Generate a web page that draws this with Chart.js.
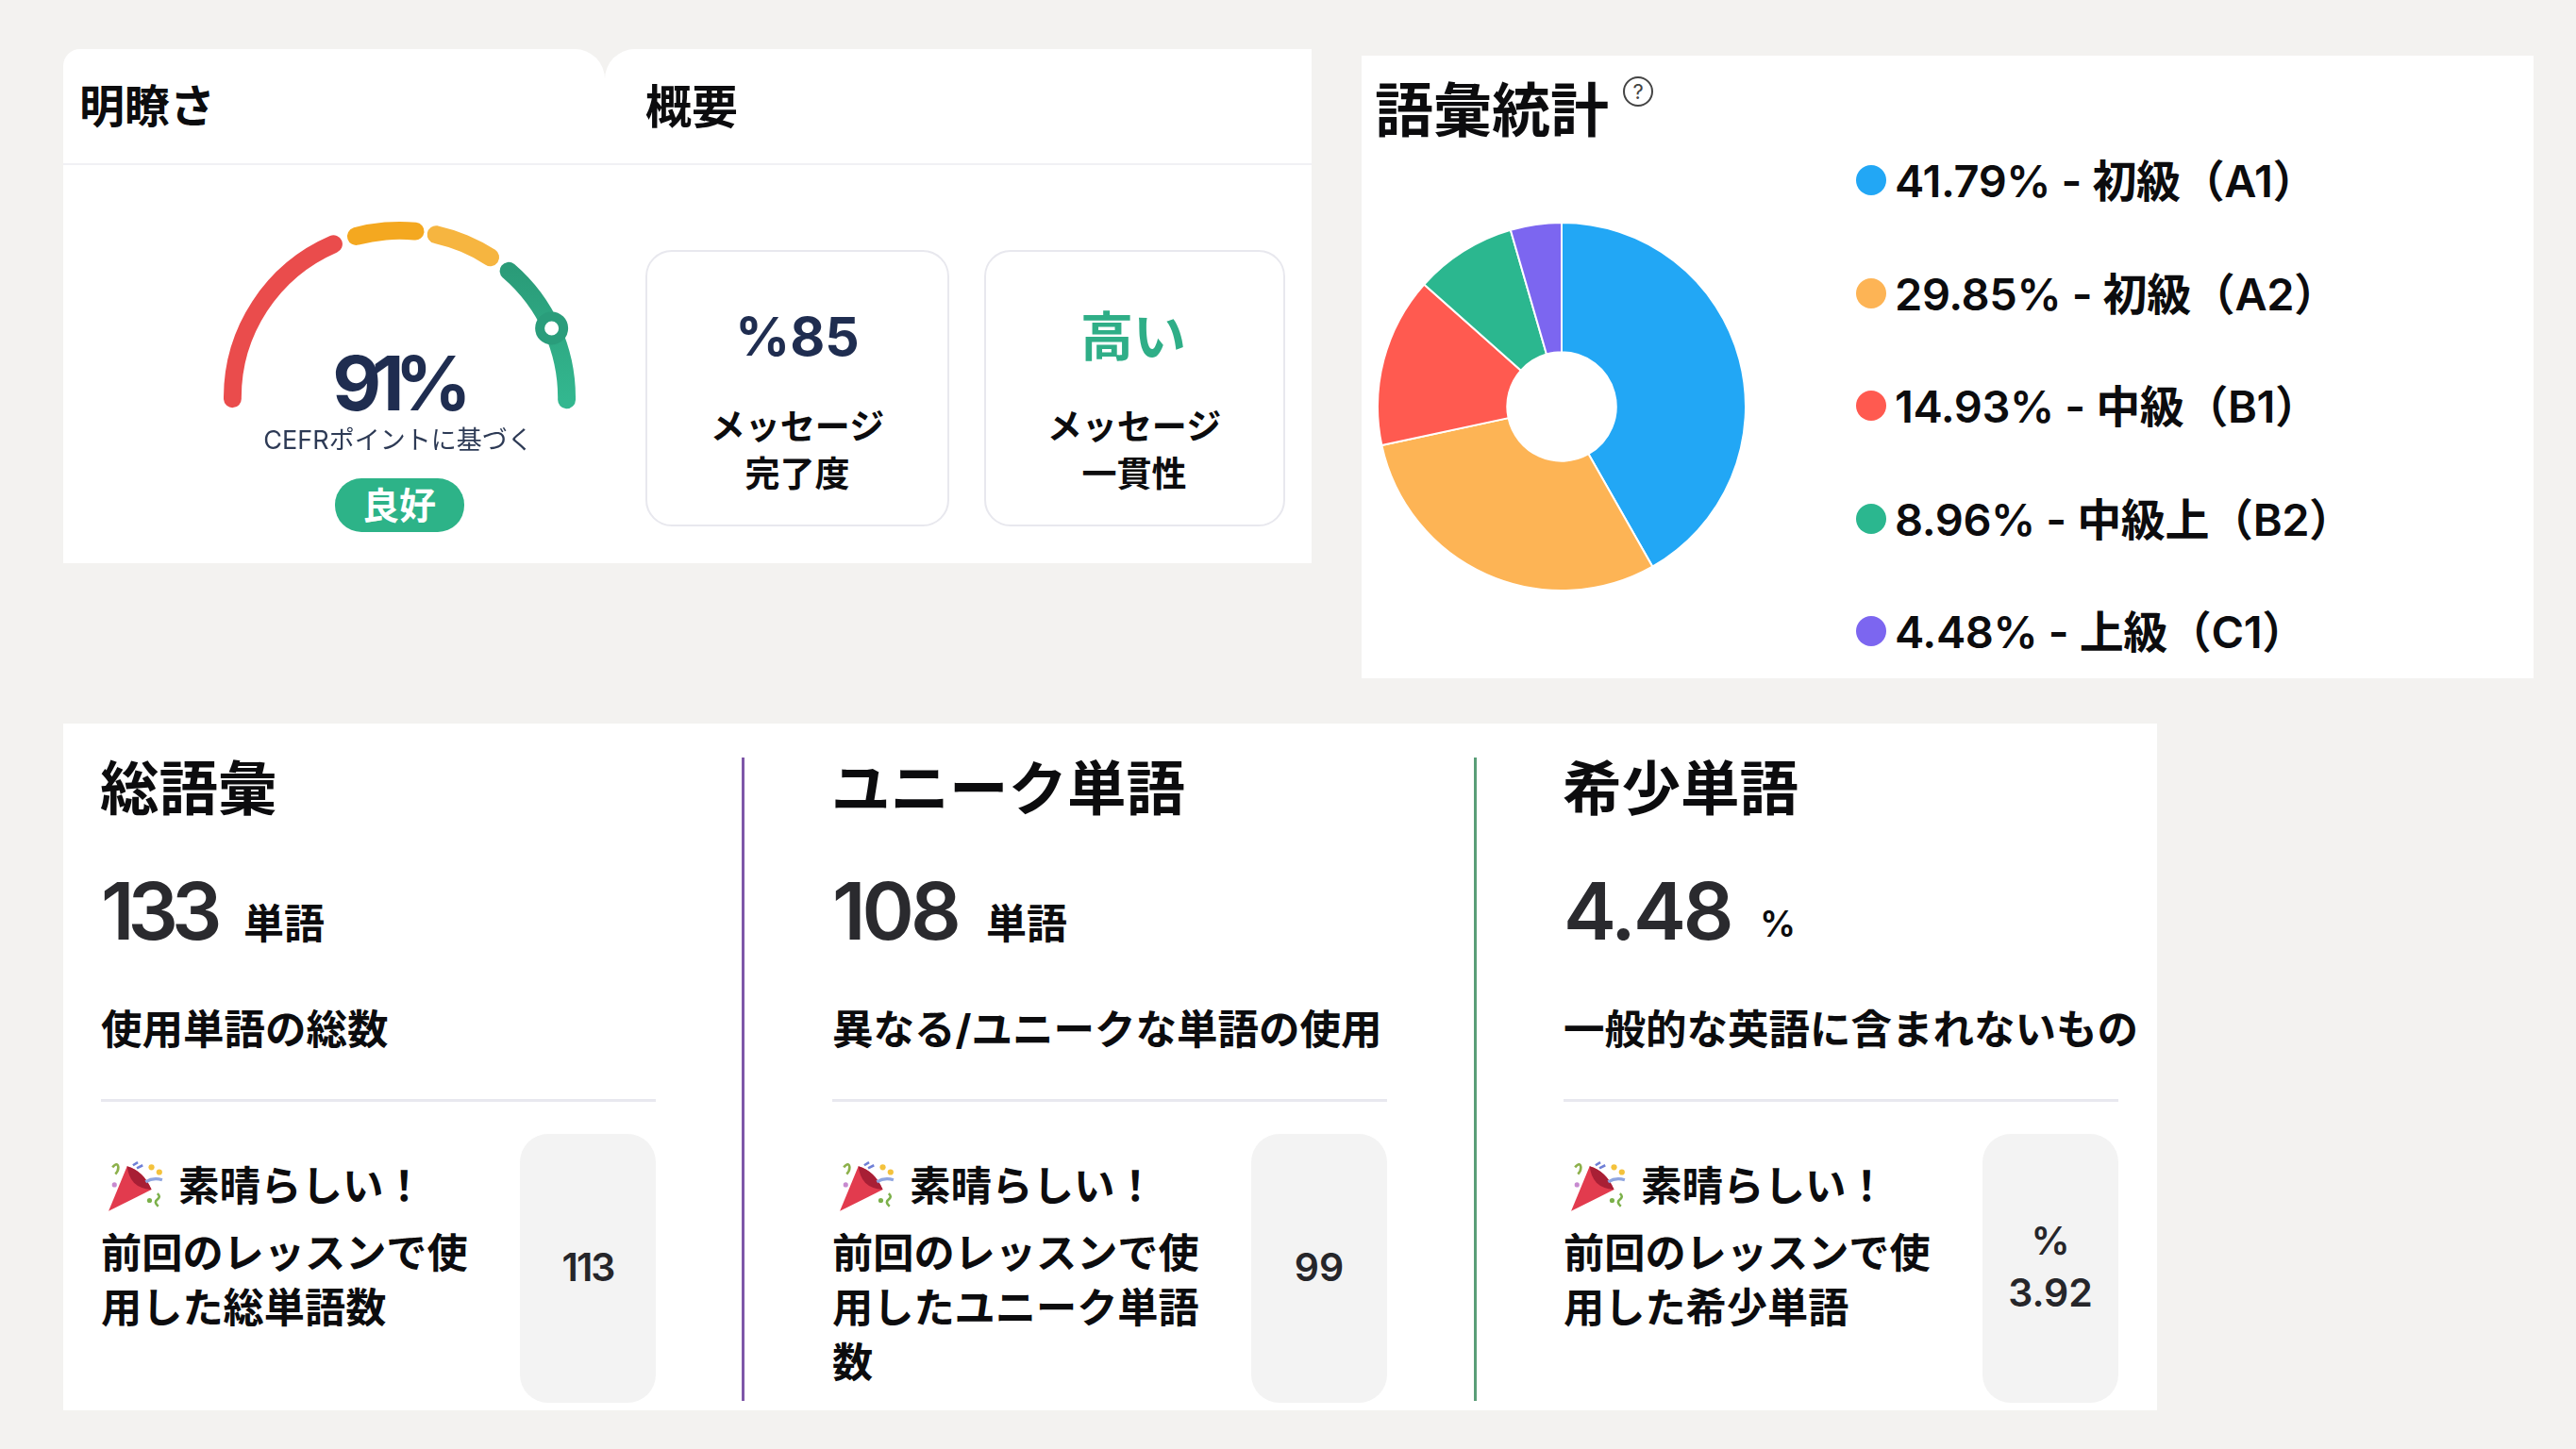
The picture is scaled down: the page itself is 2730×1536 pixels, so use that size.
<!DOCTYPE html>
<html lang="ja">
<head>
<meta charset="utf-8">
<title>語彙統計</title>
<script src="https://cdn.jsdelivr.net/npm/chart.js@4"></script>
<style>
  html, body { margin: 0; padding: 0; }
  body { position: relative; width: 2730px; height: 1536px; overflow: hidden; background: #f3f2f0;
         font-family: Inter, "Noto Sans CJK JP", sans-serif; color: #0c0c0e; }
  .box { position: absolute; box-sizing: border-box; background: #fff; }
  .txt { position: absolute; white-space: nowrap; line-height: 1; transform: translateY(-50%); }
  .txt.mid { transform: translate(-50%, -50%); }
  canvas { position: absolute; }
</style>
</head>
<body>
<canvas id="gauge" style="left:237px;top:234px;width:373px;height:211px" width="373" height="211"></canvas>
<canvas id="vocab" style="left:1459px;top:235px;width:392px;height:392px" width="392" height="392"></canvas>
<script>
// gauge
const gaugeSegments = [76.3, 27.7, 27.5, 58.5];
const gaugeColors = ['#ea4c4c', '#f4a820', '#f6b540', '#2fb38a'];
const gaugeMarkerDeg = 65.5;
const gaugeScore = '91%';
const gaugeNote = 'CEFRポイントに基づく';
const gaugeBadge = '良好';

// vocabulary levels
const levelLabels = ['初級（A1）', '初級（A2）', '中級（B1）', '中級上（B2）', '上級（C1）'];
const levelValues = [41.79, 29.85, 14.93, 8.96, 4.48];
const levelColors = ['#22a7f5', '#fdb455', '#ff5a50', '#2bb78f', '#7c66f0'];

// stat columns
const statTitles = ['総語彙', 'ユニーク単語', '希少単語'];
const statValues = ['133', '108', '4.48'];
const statUnits = ['単語', '単語', '%'];
const statNotes = ['使用単語の総数', '異なる/ユニークな単語の使用', '一般的な英語に含まれないもの'];
const statPrevLines = [
  ['前回のレッスンで使', '用した総単語数'],
  ['前回のレッスンで使', '用したユニーク単語', '数'],
  ['前回のレッスンで使', '用した希少単語']
];
const statPrevValues = [['113'], ['99'], ['%', '3.92']];
const statRules = ['#7e57a8', '#5a9e78'];

const box = (x, y, w, h, css) => {
  const el = document.createElement('div');
  el.className = 'box';
  el.style.cssText = `left:${x}px;top:${y}px;width:${w}px;height:${h}px;${css || ''}`;
  document.body.insertBefore(el, document.querySelector('canvas'));
  return el;
};
const text = (str, x, y, size, weight, color, mid, css) => {
  const el = document.createElement('div');
  el.className = mid ? 'txt mid' : 'txt';
  el.textContent = str;
  el.style.cssText = `left:${x}px;top:${y}px;font-size:${size}px;font-weight:${weight};color:${color || '#0c0c0e'};${css || ''}`;
  document.body.appendChild(el);
  return el;
};

// --- top left panel ---
box(67, 52, 574, 545, 'border-radius:18px 32px 0 0');
box(641, 52, 749, 545, 'border-radius:32px 0 0 0');
box(67, 173, 1323, 2, 'background:#f1f1f4');
text('明瞭さ', 84, 113, 48, 700);
text('概要', 684, 113, 49, 700);
text(gaugeScore, 421, 406, 80, 700, '#1f2d50', true, 'letter-spacing:-10px');
text(gaugeNote, 422, 466, 27, 400, '#2d3a55', true);
box(355, 507, 137, 57, 'background:#2db388;border-radius:28px');
text(gaugeBadge, 423, 535, 39, 700, '#fff', true);

box(684, 265, 322, 293, 'border:2px solid #e8e8ee;border-radius:28px');
box(1043, 265, 319, 293, 'border:2px solid #e8e8ee;border-radius:28px');
text('%85', 845, 356, 57, 700, '#1f2d50', true);
text('高い', 1201, 357, 56, 700, '#2fae87', true);
text('メッセージ', 845, 452, 37, 700, null, true);
text('完了度', 845, 502, 37, 700, null, true);
text('メッセージ', 1202, 452, 37, 700, null, true);
text('一貫性', 1202, 502, 37, 700, null, true);

// --- vocabulary panel ---
box(1443, 59, 1242, 660);
text('語彙統計', 1457, 118, 62, 700);
text('?', 1736, 97, 22, 400, '#444', true);
box(1720, 81, 32, 32, 'background:none;border:2px solid #444;border-radius:50%');
levelValues.forEach((v, i) => {
  const y = 191 + i * 119.5;
  box(1967, y - 16, 32, 32, `background:${levelColors[i]};border-radius:50%`);
  text(`${v.toFixed(2)}% - ${levelLabels[i]}`, 2008, y, 47, 600, null, false, 'letter-spacing:-0.4px');
});

// --- stat panel ---
box(67, 767, 2219, 728);
const statTrack = [-7, -4, -3];
statTitles.forEach((title, i) => {
  const x = 107 + i * 775;
  text(title, x - 1, 836, 62.5, 700);
  const val = text(statValues[i], x, 966, 84, 600, '#2a2a2e', false, `letter-spacing:${statTrack[i]}px`);
  text(statUnits[i], x + val.offsetWidth + 30, 979, i === 2 ? 38 : 43, i === 2 ? 600 : 700);
  text(statNotes[i], x, 1092, 43.5, 700);
  box(x, 1165, 588, 3, 'background:#e8e8ef');
  box(x + 444, 1202, 144, 285, 'background:#f3f3f3;border-radius:30px');
  const popper = document.createElementNS('http://www.w3.org/2000/svg', 'svg');
  popper.setAttribute('viewBox', '0 0 60 56');
  popper.setAttribute('style', `position:absolute;left:${x + 6}px;top:1229px;width:62px;height:58px`);
  popper.innerHTML = `<path d="M2 53 L21 7 Q38 12 46 31 Z" fill="#e23b4e"/><path d="M21 7 Q38 12 46 31 Q34 30 28 24 Q22 17 21 7Z" fill="#a81f35"/>
    <path d="M6 8 q5 -6 6 0 q0 4 -3 7" fill="none" stroke="#8cb04a" stroke-width="2.5"/><circle cx="8" cy="26" r="2.5" fill="#c78ad0"/>
    <path d="M27 6 l5 -3 m-1 6 l6 -3" stroke="#6f7fd6" stroke-width="2.5"/><circle cx="46" cy="8" r="3" fill="#f4c23c"/><circle cx="54" cy="13" r="3" fill="#f4c23c"/>
    <path d="M40 23 q8 -5 17 -2" fill="none" stroke="#8fa5e0" stroke-width="3"/><path d="M52 35 q4 3 0 6 q-4 3 1 7" fill="none" stroke="#7bb04a" stroke-width="2.5"/><circle cx="44" cy="42" r="2.5" fill="#7bb04a"/>`;
  document.body.appendChild(popper);
  text('素晴らしい！', x + 82, 1258, 43.5, 700);
  statPrevLines[i].forEach((line, j) => text(line, x, 1329 + j * 58, 43.2, 700));
  const prev = statPrevValues[i];
  prev.forEach((line, j) => {
    const y = prev.length === 1 ? 1343 : 1315 + j * 55;
    text(line, x + 516, y, 41, 600, '#26262a', true, prev.length === 1 && i === 0 ? 'letter-spacing:-2px' : '');
  });
});
statRules.forEach((color, i) => box(786 + i * 775.5, 803, 3, 682, `background:${color}`));

// --- charts ---
const gaugeMarker = {
  id: 'gaugeMarker',
  afterDatasetsDraw(chart) {
    const arc = chart.getDatasetMeta(0).data[0];
    // spacing pulls the stored radii in, the ring sits on the drawn stroke
    const r = (arc.innerRadius + arc.outerRadius) / 2 + 7;
    const a = (gaugeMarkerDeg - 90) * Math.PI / 180;
    const { ctx } = chart;
    ctx.save();
    ctx.beginPath();
    ctx.arc(arc.x + r * Math.cos(a), arc.y + r * Math.sin(a), 12.5, 0, Math.PI * 2);
    ctx.fillStyle = '#fff';
    ctx.fill();
    ctx.lineWidth = 10;
    ctx.strokeStyle = '#2a9d7b';
    ctx.stroke();
    ctx.restore();
  }
};

// green part goes lighter toward the bottom
const gaugeCtx = document.getElementById('gauge').getContext('2d');
const greenFade = gaugeCtx.createLinearGradient(0, 50, 0, 190);
greenFade.addColorStop(0, '#2a9b78');
greenFade.addColorStop(1, '#33b78f');

new Chart(gaugeCtx, {
  type: 'doughnut',
  data: {
    datasets: [{
      data: gaugeSegments,
      backgroundColor: [gaugeColors[0], gaugeColors[1], gaugeColors[2], greenFade],
      borderWidth: 0,
      borderRadius: 10
    }]
  },
  options: {
    responsive: false,
    devicePixelRatio: 1,
    animation: false,
    rotation: -95,
    circumference: 190,
    cutout: '89.5%',
    spacing: 14,
    layout: { padding: 0 },
    plugins: { legend: { display: false }, tooltip: { enabled: false } }
  },
  plugins: [gaugeMarker]
});

new Chart(document.getElementById('vocab'), {
  type: 'doughnut',
  data: {
    labels: levelLabels,
    datasets: [{
      data: levelValues,
      backgroundColor: levelColors,
      borderColor: '#fff',
      borderWidth: 2
    }]
  },
  options: {
    responsive: false,
    devicePixelRatio: 1,
    animation: false,
    cutout: '29.6%',
    layout: { padding: 0 },
    plugins: { legend: { display: false }, tooltip: { enabled: false } }
  }
});
</script>
</body>
</html>
